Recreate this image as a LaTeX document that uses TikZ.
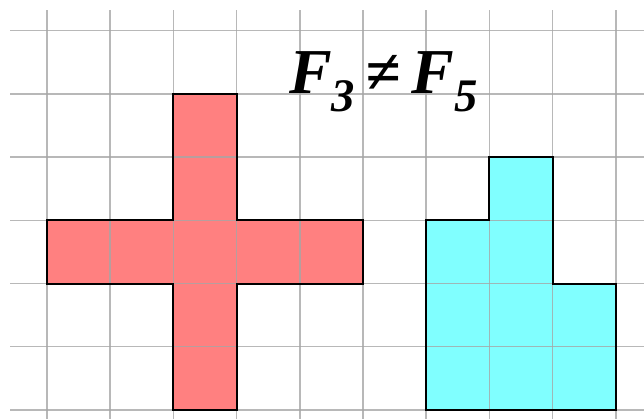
\documentclass[tikz,border=0pt]{standalone}
\usepackage{fontspec}
\setmainfont{Liberation Serif}
\usepackage{tikz}
\usetikzlibrary{positioning}

\definecolor{crossred}{RGB}{255,128,128}
\definecolor{lightcyan}{RGB}{128,255,255}
\tikzset{
  gridline/.style={black!35, line width=0.65pt, opacity=0.8},
  outline/.style={black, line width=0.9pt, line join=miter},
}
\newcommand{\fsub}[1]{\raisebox{-0.28em}{\fontsize{21}{21}\selectfont #1}}

\begin{document}
\begin{tikzpicture}[scale=1]
  \useasboundingbox (-0.744,-0.142) rectangle (9.446,6.487);

  % Figure F3 (cross)
  \fill[crossred] (2,0) -- (3,0) -- (3,2) -- (5,2) -- (5,3) -- (3,3) -- (3,5)
    -- (2,5) -- (2,3) -- (0,3) -- (0,2) -- (2,2) -- cycle;
  % Figure F5
  \fill[lightcyan] (6,0) -- (9,0) -- (9,2) -- (8,2) -- (8,4) -- (7,4) -- (7,3)
    -- (6,3) -- cycle;

  % Grid
  \foreach \x in {0,...,9}
    \draw[gridline] (\x,-0.3) -- (\x,6.33);
  \foreach \y in {0,...,6}
    \draw[gridline] (-0.585,\y) -- (9.6,\y);

  % Outlines
  \draw[outline] (2,0) -- (3,0) -- (3,2) -- (5,2) -- (5,3) -- (3,3) -- (3,5)
    -- (2,5) -- (2,3) -- (0,3) -- (0,2) -- (2,2) -- cycle;
  \draw[outline] (6,0) -- (9,0) -- (9,2) -- (8,2) -- (8,4) -- (7,4) -- (7,3)
    -- (6,3) -- cycle;

  % Label
  \node[inner sep=0pt, anchor=base] (title) at (5.32,5.0)
    {\fontsize{28.8}{30}\selectfont\bfseries\itshape F\fsub{3}\,≠\,F\fsub{5}};
\end{tikzpicture}
\end{document}
